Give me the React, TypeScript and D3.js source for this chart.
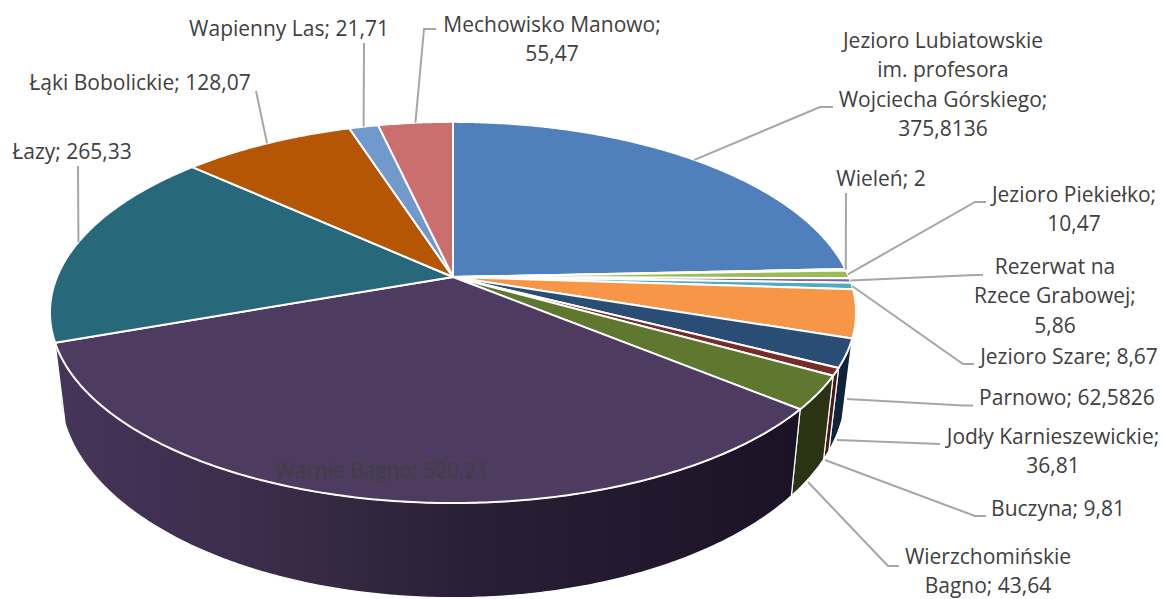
import React from "react";
import * as d3 from "d3";

const names = [
  "Jezioro Lubiatowskie", "Wieleń", "Jezioro Piekiełko", "Rezerwat na Rzece Grabowej", "Jezioro Szare",
  "Parnowo", "Jodły Karnieszewickie", "Buczyna", "Wierzchomińskie Bagno", "Warnie Bagno",
  "Łazy", "Łąki Bobolickie", "Wapienny Las", "Mechowisko Manowo",
];
const values = [375.8136, 2, 10.47, 5.86, 8.67, 62.5826, 36.81, 9.81, 43.64, 520.21, 265.33, 128.07, 21.71, 55.47];
const topColors = [
  "#4f80bc", "#c0504d", "#9bbb59", "#8064a2", "#4bacc6", "#f79646", "#2a4d76",
  "#772c2a", "#5f772e", "#4d3b60", "#27687a", "#b45604", "#7299cc", "#cb6f6e",
];
const sideColors = [
  "#2f4c70", "#732f2e", "#5c7035", "#4c3c61", "#2d6776", "#94592a", "#0f2339",
  "#481a19", "#2a3312", "url(#warnieSide)", "#9fc0c9", "#6b3303", "#44628a", "#7a4241",
];

// label text lines, split as in the chart
const labelLines = [
  ["Jezioro Lubiatowskie", "im. profesora", "Wojciecha Górskiego;", "375,8136"],
  ["Wieleń; 2"],
  ["Jezioro Piekiełko;", "10,47"],
  ["Rezerwat na", "Rzece Grabowej;", "5,86"],
  ["Jezioro Szare; 8,67"],
  ["Parnowo; 62,5826"],
  ["Jodły Karnieszewickie;", "36,81"],
  ["Buczyna; 9,81"],
  ["Wierzchomińskie", "Bagno; 43,64"],
  ["Warnie Bagno; 520,21"],
  ["Łazy; 265,33"],
  ["Łąki Bobolickie; 128,07"],
  ["Wapienny Las; 21,71"],
  ["Mechowisko Manowo;", "55,47"],
];
const labelX = [943, 881, 1074, 1055, 1069, 1067, 1053, 1058, 988, 382, 72, 140, 289, 552];
const labelY = [48, 186, 202, 274, 364, 405, 444, 516, 564, 478, 159, 90, 36, 32];
const lineGap = 29.3;

// leader lines: from the slice rim (or the given side anchor) through the elbows
const leaderAnchors: ([number, number] | null)[] = [
  null, null, null, null, null, [847, 399], [837, 440], [825, 460], [808, 482], null, null, null, null, null,
];
const leaderElbows: [number, number][][] = [
  [[820, 107], [833, 107]],
  [[846, 193]],
  [[975, 202], [986, 202]],
  [[975, 275], [983, 275]],
  [[963, 364], [974, 364]],
  [[963, 405.5], [973, 405.5]],
  [[940, 444]],
  [[975, 516], [986, 516]],
  [[888, 566], [899, 566]],
  [],
  [[78, 166]],
  [[256, 91]],
  [[364, 43]],
  [[424, 29], [436, 29]],
];

const width = 1163;
const height = 599;
const cx = 453;
const persp = 0.186;

const top = { cy: 277, rx: 396, ry: 184 };
const bottom = { cy: 352, rx: 386, ry: 200 };

function project(a: number, f: { cy: number; rx: number; ry: number }): [number, number] {
  const X = Math.sin(a);
  const Y = Math.cos(a);
  const w = 1 + persp * Y;
  return [cx + (f.rx * X) / w, f.cy - (f.ry * Y) / w];
}

const rimAngles = (a0: number, a1: number) => {
  const n = Math.max(2, Math.ceil((a1 - a0) / 0.01));
  return d3.range(n + 1).map((i) => a0 + ((a1 - a0) * i) / n);
};

const line = d3.line<[number, number]>();

export default function App() {
  const idx = d3.range(values.length);
  const arcs = d3.pie<number>().sort(null).value((i) => values[i])(idx);

  // back to front for the sides
  const sideOrder = [...arcs].sort(
    (a, b) =>
      Math.abs((b.startAngle + b.endAngle) / 2 - Math.PI) -
      Math.abs((a.startAngle + a.endAngle) / 2 - Math.PI)
  );

  return (
    <svg width={width} height={height} style={{ position: "absolute", left: 0, top: 0, background: "#fff" }}>
      <defs>
        <linearGradient id="warnieSide" gradientUnits="userSpaceOnUse" x1={55} x2={800} y1={0} y2={0}>
          <stop offset="0" stopColor="#45355a" />
          <stop offset="0.3" stopColor="#3a2c49" />
          <stop offset="0.55" stopColor="#2a2036" />
          <stop offset="1" stopColor="#1c1226" />
        </linearGradient>
      </defs>

      {sideOrder.map((d) => {
        const as = rimAngles(d.startAngle, d.endAngle);
        const pts = [...as.map((a) => project(a, top)), ...as.reverse().map((a) => project(a, bottom))];
        return (
          <path key={d.index} d={line(pts) + "Z"} fill={sideColors[d.index]} stroke="#fff" strokeWidth={1.2} strokeLinejoin="round" />
        );
      })}

      {arcs.map((d) => {
        const pts: [number, number][] = [[cx, top.cy], ...rimAngles(d.startAngle, d.endAngle).map((a) => project(a, top))];
        return (
          <path key={d.index} d={line(pts) + "Z"} fill={topColors[d.index]} stroke="#fff" strokeWidth={2} strokeLinejoin="round" />
        );
      })}

      {arcs.map((d) => {
        const elbows = leaderElbows[d.index];
        if (elbows.length === 0) return null;
        const start = leaderAnchors[d.index] ?? project((d.startAngle + d.endAngle) / 2, top);
        return <path key={d.index} d={line([start, ...elbows]) ?? ""} fill="none" stroke="#a6a6a6" strokeWidth={2} />;
      })}

      <g fontFamily="'Open Sans', sans-serif" fontSize={21} fill="#404040" textAnchor="middle">
        {labelLines.map((lines, i) => (
          <text key={names[i]} x={labelX[i]} y={labelY[i]}>
            {lines.map((t, j) => (
              <tspan key={j} x={labelX[i]} y={labelY[i] + j * lineGap}>
                {t}
              </tspan>
            ))}
          </text>
        ))}
      </g>
    </svg>
  );
}
